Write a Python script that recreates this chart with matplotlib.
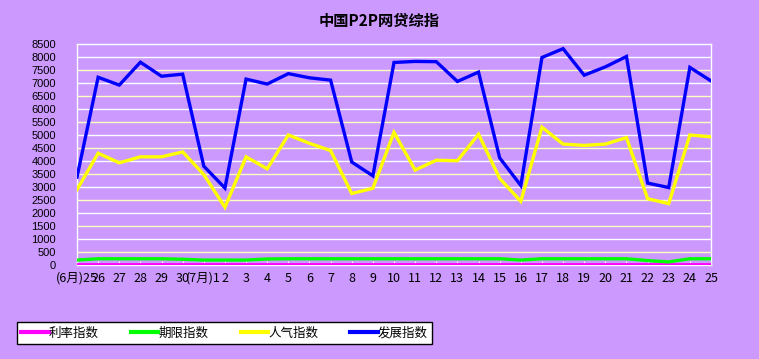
import matplotlib
matplotlib.use("Agg")
import matplotlib.pyplot as plt

# ─────────────────────────────
# DATA
# ─────────────────────────────
dates = ["(6月)25", "26", "27", "28", "29", "30", "(7月)1"] + [str(d) for d in range(2, 26)]

rate_idx = [20] * 31
term_idx = [190, 240, 240, 240, 240, 220, 190, 190, 190, 230, 240, 240, 240, 240, 240, 240,
            240, 240, 240, 240, 240, 190, 240, 240, 240, 240, 240, 170, 120, 240, 240]
pop_idx = [2900, 4300, 3930, 4160, 4160, 4350, 3480, 2220, 4160, 3700, 5000, 4680, 4400,
           2750, 2950, 5100, 3650, 4030, 4010, 5030, 3330, 2450, 5300, 4650, 4600, 4650,
           4900, 2550, 2360, 5000, 4930]
dev_idx = [3380, 7220, 6920, 7800, 7260, 7340, 3800, 2960, 7150, 6960, 7360, 7200, 7110,
           3960, 3430, 7790, 7830, 7820, 7060, 7420, 4120, 3060, 7980, 8320, 7300, 7620,
           8020, 3150, 2980, 7600, 7080]

series_names = ["利率指数", "期限指数", "人气指数", "发展指数"]
series_colors = ["#ff00ff", "#00ff00", "#ffff00", "#0000ff"]

BG = "#cc99ff"
CJK = ["Noto Sans CJK SC", "DejaVu Sans"]

fig = plt.figure(figsize=(7.59, 3.59), dpi=100)
fig.patch.set_facecolor(BG)
ax = fig.add_axes([77 / 759, 1 - 265 / 359, (711 - 77) / 759, (265 - 44) / 359])
ax.set_facecolor(BG)

x = list(range(len(dates)))

# gridlines, alternating white / pale yellow
for v in range(500, 8500, 500):
    ax.axhline(v, color="#ffffc0" if v % 1000 else "white", lw=1.0, zorder=1)

widths = [2.0, 2.4, 2.4, 2.4]
for vals, name, col, lw in zip([rate_idx, term_idx, pop_idx, dev_idx], series_names, series_colors, widths):
    ax.plot(x, vals, color=col, lw=lw, label=name, zorder=3, solid_joinstyle="miter")

ax.set_xlim(0, len(dates) - 1)
ax.set_ylim(0, 8500)
ax.set_yticks(range(0, 8501, 500))
ax.set_xticks(x)
ax.set_xticklabels(dates, family=CJK, fontsize=9)
for lbl in ax.get_yticklabels():
    lbl.set_fontsize(8)
    lbl.set_family("Liberation Sans")
ax.tick_params(axis="y", length=0, pad=15)
ax.tick_params(axis="x", direction="in", length=3, color="white", pad=5)
for s in ax.spines.values():
    s.set_color("white")
    s.set_linewidth(1)

fig.text(379 / 759, 1 - 21 / 359, "中国P2P网贷综指", ha="center", va="center",
         fontsize=11, fontweight="bold", family=CJK)

leg = fig.legend(loc="lower left", ncol=4, mode="expand",
                 bbox_to_anchor=(17 / 759, 1 - 344 / 359, (432 - 17) / 759, 27 / 359),
                 prop={"family": CJK, "size": 9}, frameon=True, fancybox=False,
                 handlelength=2.2, handletextpad=0.0, borderaxespad=0, borderpad=0.35)
leg.get_frame().set_facecolor("white")
leg.get_frame().set_edgecolor("black")
leg.get_frame().set_linewidth(1)
leg.get_frame().set_alpha(1)
for h in leg.get_lines():
    h.set_linewidth(3)

fig.savefig("out.png", dpi=100, facecolor=BG)
